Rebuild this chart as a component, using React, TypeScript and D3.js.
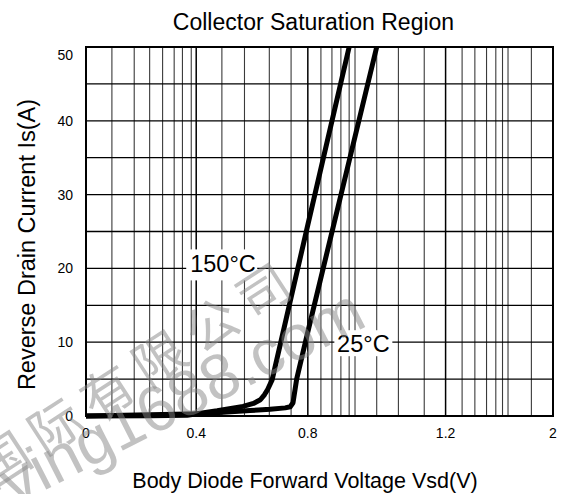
import React from "react";
import * as d3 from "d3";

const width = 569;
const height = 494;
const margin = { top: 47, right: 16, bottom: 78, left: 86 };

// x axis of the datasheet is not uniform: each labelled tick sits at its own fraction of the width
const xTicks = [0, 0.4, 0.8, 1.2, 2];
const xTickStops = [0, 0.236, 0.475, 0.77, 1];
const xGrid = [
  0.094, 0.175, 0.231, 0.278, 0.32, 0.35, 0.382, 0.492, 0.573, 0.662, 0.74,
  0.838, 0.87, 0.896, 0.92, 0.937, 1.0, 1.063, 1.138, 1.323, 1.418, 1.505,
  1.574, 1.624, 1.665, 1.839,
];
const yTicks = [0, 10, 20, 30, 40, 50];
const yGrid = [5, 15, 25, 35, 45];

// 150°C curve
const vsd150 = [0, 0.233, 0.367, 0.475, 0.568, 0.605, 0.63, 0.645, 0.656, 0.672, 0.8, 0.92];
const is150 = [0, 0.05, 0.1, 0.7, 1.3, 1.7, 2.2, 2.9, 3.6, 4.9, 25.9, 50];
// 25°C curve
const vsd25 = [0, 0.415, 0.593, 0.665, 0.719, 0.737, 0.747, 0.76, 0.8, 1.0];
const is25 = [0, 0.3, 0.75, 0.9, 1.1, 1.25, 1.8, 5, 11.4, 50];

const font = "'Liberation Sans', Arial, Helvetica, sans-serif";

const App = () => {
  const innerWidth = width - margin.left - margin.right;
  const innerHeight = height - margin.top - margin.bottom;

  const xScale = d3
    .scaleLinear()
    .domain(xTicks)
    .range(xTickStops.map((f) => f * innerWidth));
  const yScale = d3.scaleLinear().domain([0, 50]).range([innerHeight, 0]);

  const line = d3
    .line<[number, number]>()
    .x((d) => xScale(d[0]))
    .y((d) => yScale(d[1]))
    .curve(d3.curveLinear);

  const curve150 = vsd150.map((v, i) => [v, is150[i]] as [number, number]);
  const curve25 = vsd25.map((v, i) => [v, is25[i]] as [number, number]);

  return (
    <svg
      width={width}
      height={height}
      style={{ position: "absolute", left: 0, top: 0, background: "#fff" }}
      fontFamily={font}
    >
      <text x={margin.left + innerWidth / 2 - 6} y={30} textAnchor="middle" fontSize={23} fill="#000">
        Collector Saturation Region
      </text>

      <g transform={`translate(${margin.left},${margin.top})`}>
        {/* minor vertical grid */}
        {xGrid.map((v) => (
          <line key={"gx" + v} x1={xScale(v)} x2={xScale(v)} y1={0} y2={innerHeight} stroke="#3a3a3a" strokeWidth={1.1} />
        ))}
        {xTicks.map((v) => (
          <line key={"tx" + v} x1={xScale(v)} x2={xScale(v)} y1={0} y2={innerHeight} stroke="#000" strokeWidth={1.5} />
        ))}
        {/* horizontal grid */}
        {yGrid.concat(yTicks).map((v) => (
          <line key={"gy" + v} x1={0} x2={innerWidth} y1={yScale(v)} y2={yScale(v)} stroke="#000" strokeWidth={1.3} />
        ))}
        <rect x={0} y={0} width={innerWidth} height={innerHeight} fill="none" stroke="#000" strokeWidth={2} />

        {yTicks.map((v) => (
          <text
            key={"ly" + v}
            x={-13}
            y={Math.max(yScale(v), 8)}
            dy="0.35em"
            textAnchor="end"
            fontSize={14}
            fill="#000"
          >
            {v}
          </text>
        ))}
        {xTicks.map((v) => (
          <text key={"lx" + v} x={xScale(v)} y={innerHeight + 17} dy="0.35em" textAnchor="middle" fontSize={14} fill="#000">
            {v}
          </text>
        ))}

        <path d={line(curve150) ?? ""} fill="none" stroke="#000" strokeWidth={5} strokeLinejoin="round" />
        <path d={line(curve25) ?? ""} fill="none" stroke="#000" strokeWidth={5} strokeLinejoin="round" />

        {/* curve labels on white boxes */}
        <rect x={xScale(0.4) - 10} y={yScale(20) - 19} width={71} height={31} fill="#fff" />
        <text x={xScale(0.4) - 6} y={yScale(20) + 4} fontSize={23.5} fill="#000">
          150°C
        </text>
        <rect x={xScale(0.877)} y={yScale(10) - 12} width={58} height={26} fill="#fff" />
        <text x={xScale(0.885)} y={yScale(10) + 9.5} fontSize={23.5} fill="#000">
          25°C
        </text>
      </g>

      <text x={305} y={488} textAnchor="middle" fontSize={21.5} fill="#000">
        Body Diode Forward Voltage Vsd(V)
      </text>
      <text
        transform={`translate(35,${margin.top + innerHeight / 2 + 13}) rotate(-90)`}
        textAnchor="middle"
        fontSize={23.5}
        fill="#000"
      >
        Reverse Drain Current Is(A)
      </text>

      {/* watermark */}
      <g fill="rgb(133,133,133)" fillOpacity={0.5}>
        <text
          transform="translate(-8,490) rotate(-33)"
          fontSize={52}
          letterSpacing={10}
          fontFamily="'Noto Sans CJK SC', sans-serif"
        >
          国际有限公司
        </text>
        <text transform="translate(14,506) rotate(-27)" fontSize={64} fontFamily={font}>
          ving1688.com
        </text>
      </g>
    </svg>
  );
};

export default App;
